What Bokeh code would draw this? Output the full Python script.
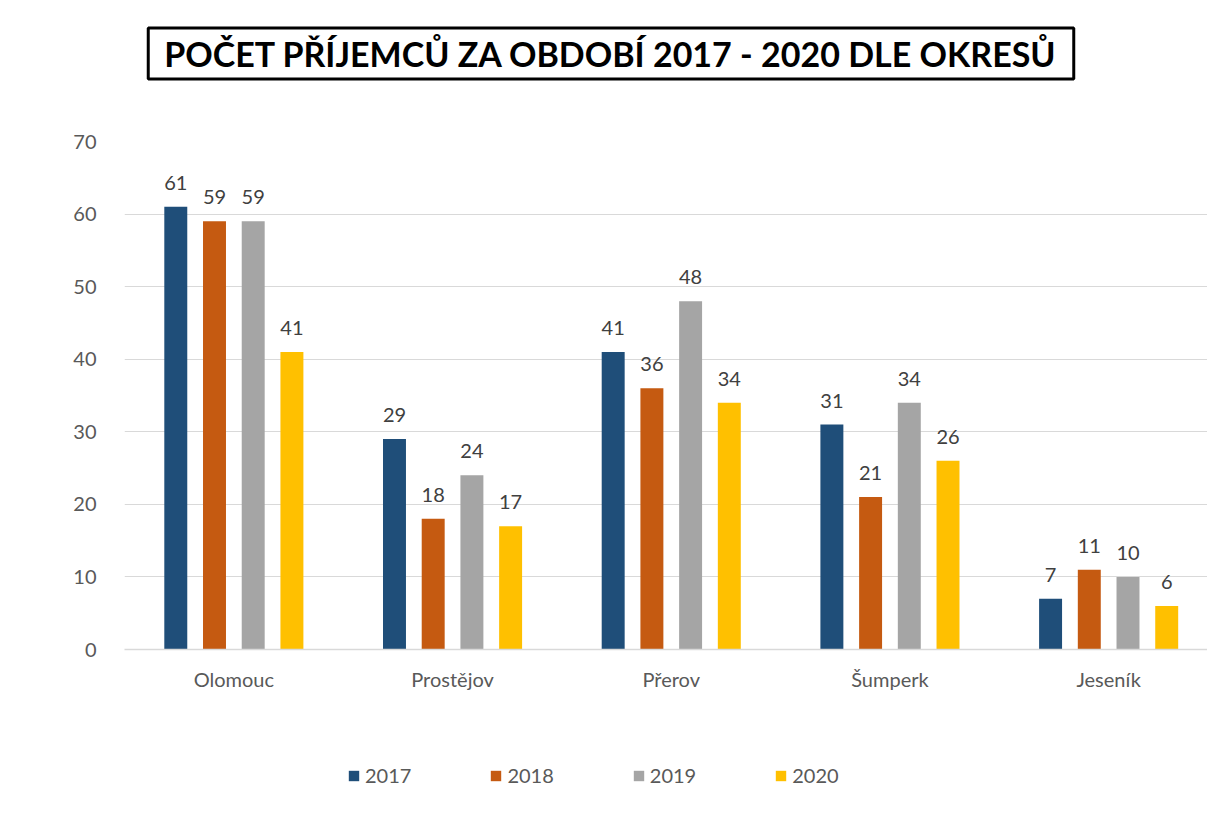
from bokeh.plotting import figure
from bokeh.models import (ColumnDataSource, LabelSet, Legend, LegendItem, FixedTicker,
                          Range1d, Label)
from bokeh.layouts import column
from bokeh.core.properties import value
from bokeh.embed import file_html
from bokeh.resources import INLINE

districts = ["Olomouc", "Prostějov", "Přerov", "Šumperk", "Jeseník"]
years = ["2017", "2018", "2019", "2020"]
v2017 = [61, 29, 41, 31, 7]
v2018 = [59, 18, 36, 21, 11]
v2019 = [59, 24, 48, 34, 10]
v2020 = [41, 17, 34, 26, 6]
series = [v2017, v2018, v2019, v2020]
colors = ["#1f4e79", "#c55a11", "#a5a5a5", "#ffc000"]
y_ticks = [0, 10, 20, 30, 40, 50, 60, 70]
title_text = "POČET PŘÍJEMCŮ ZA OBDOBÍ 2017 - 2020 DLE OKRESŮ"

FONT = "Lato"

# title strip
p0 = figure(width=1207, height=120, output_backend="svg", toolbar_location=None,
            x_axis_location=None, y_axis_location=None,
            x_range=Range1d(124, 1207), y_range=Range1d(120, 0), min_border=0)
p0.outline_line_color = None
p0.grid.visible = False
p0.add_layout(Label(x=610.5, y=53, text=title_text, text_align="center",
                    text_baseline="middle", text_font=FONT, text_font_style="bold",
                    text_font_size="34px", text_color="black",
                    border_line_color="black", border_line_width=3,
                    background_fill_color="white", padding=(16, 5)))

# main chart
p = figure(width=1207, height=621, output_backend="svg", toolbar_location=None,
           x_range=Range1d(-0.5, 4.452), y_range=Range1d(0, 70),
           min_border_left=124, min_border_right=0, min_border_top=21,
           min_border_bottom=92)
p.outline_line_color = None
p.background_fill_color = "white"
p.border_fill_color = "white"

group_w = 0.177
bar_w = 0.105
for j, (yr, vals, col) in enumerate(zip(years, series, colors)):
    xs = [i + (j - 1.5) * group_w for i in range(len(districts))]
    src = ColumnDataSource(dict(x=xs, top=vals, lbl=[str(v) for v in vals]))
    p.vbar(x="x", top="top", width=bar_w, bottom=0, source=src,
           fill_color=col, line_color=None)
    p.add_layout(LabelSet(x="x", y="top", text="lbl", source=src, y_offset=17,
                          text_align="center", text_baseline="alphabetic",
                          text_font=value(FONT), text_font_size=value("20px"),
                          text_color=value("#404040")))

p.xaxis.ticker = FixedTicker(ticks=list(range(len(districts))))
p.xaxis.major_label_overrides = {i: d for i, d in enumerate(districts)}
p.xaxis.major_label_text_font = FONT
p.xaxis.major_label_text_font_size = "20px"
p.xaxis.major_label_text_color = "#595959"
p.xaxis.major_label_standoff = 11
p.xaxis.axis_line_color = "#d9d9d9"
p.xaxis.axis_line_width = 1.5
p.xaxis.major_tick_line_color = None
p.xaxis.minor_tick_line_color = None

p.yaxis.ticker = FixedTicker(ticks=y_ticks)
p.yaxis.major_label_text_font = FONT
p.yaxis.major_label_text_font_size = "20px"
p.yaxis.major_label_text_color = "#595959"
p.yaxis.major_label_standoff = 22
p.yaxis.axis_line_color = None
p.yaxis.major_tick_line_color = None
p.yaxis.minor_tick_line_color = None

p.xgrid.grid_line_color = None
p.ygrid.grid_line_color = "#d9d9d9"
p.ygrid.grid_line_width = 1

# legend strip below the chart
p2 = figure(width=1207, height=88, output_backend="svg", toolbar_location=None,
            x_axis_location=None, y_axis_location=None,
            x_range=Range1d(0, 1), y_range=Range1d(0, 1), min_border=0)
p2.outline_line_color = None
p2.grid.visible = False
items = []
for yr, col in zip(years, colors):
    r2 = p2.vbar(x=[-10], top=[-10], width=0.1, fill_color=col, line_color=None)
    items.append(LegendItem(label=yr, renderers=[r2]))
legend = Legend(items=items, orientation="horizontal", location=(223, 42),
                glyph_width=13, glyph_height=13, label_standoff=5, spacing=78,
                padding=0, margin=0, border_line_color=None, background_fill_alpha=0,
                label_text_font=FONT, label_text_font_size="20px",
                label_text_color="#595959")
p2.add_layout(legend, "center")

open("out.html", "w").write(file_html(column(p0, p, p2, spacing=0), INLINE))
